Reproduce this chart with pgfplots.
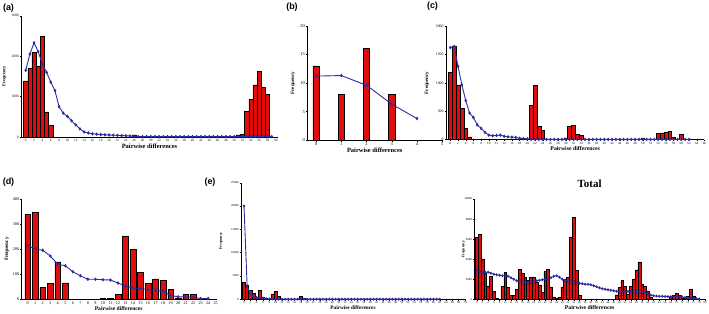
\documentclass[border=0pt]{standalone}
\usepackage{fontspec}
\setmainfont{Liberation Serif}
\setsansfont{Liberation Sans}
\usepackage{pgfplots}
\pgfplotsset{compat=1.18}
\definecolor{barred}{RGB}{225,12,12}
\definecolor{lineblue}{RGB}{45,45,160}
\pgfplotsset{
 pan/.style={
  scale only axis, axis lines=left, axis line style={-, line width=0.5pt},
  tick align=outside, major tick length=1.5pt,
  every tick/.style={black, line width=0.4pt},
  ymin=0, clip=false,
  /pgf/number format/assume math mode=true,
  /pgf/number format/1000 sep={},
  scaled y ticks=false,
  xticklabel style={inner sep=0.8pt},
  yticklabel style={inner sep=0.8pt},
  xlabel style={font=\bfseries, inner sep=1pt},
  ylabel style={font=\bfseries, inner sep=0pt},
  xlabel={Pairwise differences}, ylabel={Frequency},
 },
 yl/.style={every axis y label/.style={at={(axis description cs:-#1,0.5)}, rotate=90, anchor=center}},
 rbars/.style={ybar, bar width=#1, fill=barred, draw=black, line width=0.5pt},
 ln/.style={color=lineblue, line width=0.9pt, mark=diamond*, mark size=1.1pt, mark options={solid, fill=lineblue}},
}
\begin{document}
\begin{tikzpicture}
\path[use as bounding box] (0,0) rectangle (709bp,314bp);
% (a)
\begin{axis}[pan, yl=0.0642, at={(21bp,177bp)}, anchor=south west, width=257bp, height=121.3bp,
 xmin=-1.13, xmax=60.5, ymax=3000, xtick={0,2,...,60}, ytick={0,1000,2000,3000},
 xticklabel style={font=\fontsize{3.3}{4}\selectfont}, yticklabel style={font=\fontsize{3.5}{4}\selectfont},
 xlabel style={font=\fontsize{6.5}{7}\selectfont\bfseries}, ylabel style={font=\fontsize{4.5}{5}\selectfont\bfseries}]
\addplot[rbars=1] coordinates {(0,1390)(1,1700)(2,2100)(3,1760)(4,2500)(5,620)(6,280)(26,50)(51,50)(52,70)(53,640)(54,930)(55,1290)(56,1620)(57,1220)(58,1060)};
\addplot[ln] coordinates {(0,1650)(1,2050)(2,2330)(3,2110)(4,1800)(5,1600)(6,1360)(7,1150)(8,750)(9,590)(10,510)(11,400)(12,300)(13,200)(14,125)(15,100)(16,80)(17,70)(18,60)(19,55)(20,50)(21,45)(22,40)(23,35)(24,30)(25,25)(26,20)(27,10)(28,10)(29,10)(30,10)(31,10)(32,10)(33,10)(34,10)(35,10)(36,10)(37,10)(38,10)(39,10)(40,10)(41,10)(42,10)(43,10)(44,10)(45,10)(46,10)(47,10)(48,10)(49,10)(50,10)(51,10)(52,10)(53,10)(54,10)(55,10)(56,10)(57,10)(58,10)(59,10)};
\end{axis}
% (b)
\begin{axis}[pan, yl=0.106, at={(307.3bp,173.7bp)}, anchor=south west, width=134.9bp, height=114.6bp,
 xmin=-0.35, xmax=5, ymax=20, xtick={0,1,2,3,4,5}, ytick={0,5,10,15,20},
 xticklabel style={font=\fontsize{4.5}{5}\selectfont}, yticklabel style={font=\fontsize{4.5}{5}\selectfont},
 xlabel style={font=\fontsize{6.5}{7}\selectfont\bfseries}, ylabel style={font=\fontsize{5}{6}\selectfont\bfseries}]
\addplot[rbars=0.25] coordinates {(0,13)(1,8)(2,16)(3,8)};
\addplot[ln] coordinates {(0,11.2)(1,11.3)(2,9.6)(3,6.3)(4,3.8)};
\end{axis}
% (c)
\begin{axis}[pan, yl=0.0735, at={(446bp,174.3bp)}, anchor=south west, width=258.4bp, height=113.7bp,
 xmin=-1.12, xmax=66, ymax=2000, xtick={0,2,...,66}, ytick={0,500,1000,1500,2000},
 xticklabel style={font=\fontsize{3.3}{4}\selectfont}, yticklabel style={font=\fontsize{3.8}{4}\selectfont},
 xlabel style={font=\fontsize{5.8}{7}\selectfont\bfseries}, ylabel style={font=\fontsize{5}{6}\selectfont\bfseries}]
\addplot[rbars=1] coordinates {(0,1190)(1,1650)(2,960)(3,550)(4,200)(5,50)(6,10)(20,10)(21,610)(22,950)(23,240)(24,160)(30,30)(31,240)(32,250)(33,90)(34,70)(50,20)(54,110)(55,120)(56,130)(57,150)(58,40)(60,100)};
\addplot[ln] coordinates {(0,1620)(1,1640)(2,1290)(3,965)(4,690)(5,470)(6,390)(7,260)(8,200)(9,130)(10,80)(11,70)(12,75)(13,80)(14,60)(15,50)(16,45)(17,40)(18,25)(19,20)(20,15)(21,5)(22,5)(23,5)(24,5)(25,5)(26,5)(27,5)(28,5)(29,5)(30,5)(31,5)(32,5)(33,5)(34,5)(35,5)(36,5)(37,5)(38,5)(39,5)(40,5)(41,5)(42,5)(43,5)(44,5)(45,5)(46,5)(47,5)(48,5)(49,5)(50,5)(51,5)(52,5)(53,5)(54,5)(55,5)(56,5)(57,5)(58,5)(59,5)(60,5)(61,5)(62,5)};
\end{axis}
% (d)
\begin{axis}[pan, yl=0.0758, at={(21.7bp,15bp)}, anchor=south west, width=194bp, height=100bp,
 xmin=-0.8, xmax=25, ymax=400, xtick={0,1,...,25}, ytick={0,100,200,300,400},
 xticklabel style={font=\fontsize{4.2}{5}\selectfont}, yticklabel style={font=\fontsize{4.2}{5}\selectfont},
 xlabel style={font=\fontsize{5.6}{7}\selectfont\bfseries}, ylabel style={font=\fontsize{5.2}{6}\selectfont\bfseries}]
\addplot[rbars=0.75] coordinates {(0,340)(1,347)(2,47)(3,63)(4,149)(5,65)(6,0)(7,0)(8,0)(9,0)(10,2)(11,2)(12,19)(13,253)(14,199)(15,107)(16,63)(17,81)(18,76)(19,39)(20,5)(21,19)(22,19)(23,0)(24,0)};
\addplot[ln] coordinates {(0,213)(1,200)(2,195)(3,172)(4,139)(5,133)(6,109)(7,93)(8,79)(9,79)(10,77)(11,76)(12,64)(13,52)(14,44)(15,42)(16,37)(17,35)(18,30)(19,14)(20,9)(21,8)(22,7)(23,2)(24,2)};
\end{axis}
% (e)
\begin{axis}[pan, yl=0.0893, at={(241bp,14.7bp)}, anchor=south west, width=224bp, height=116.6bp,
 xmin=-0.95, xmax=70, ymax=25000, xtick={0,2,...,70}, ytick={0,5000,10000,15000,20000,25000},
 xticklabel style={font=\fontsize{3}{4}\selectfont}, yticklabel style={font=\fontsize{3}{4}\selectfont},
 xlabel style={font=\fontsize{5.3}{6}\selectfont\bfseries}, ylabel style={font=\fontsize{3.8}{4}\selectfont\bfseries}]
\addplot[rbars=1] coordinates {(0,3700)(1,3100)(2,1900)(3,1200)(4,500)(5,1900)(6,500)(7,150)(9,1000)(10,1700)(11,700)(12,100)(18,700)(19,250)};
\addplot[ln, mark size=0.9pt] coordinates {(0,20000)(1,2700)(2,1200)(3,600)(4,400)(5,300)(6,200)(7,150)(8,100)(9,80)(10,60)(11,30)(12,30)(13,30)(14,30)(15,30)(16,30)(17,30)(18,30)(19,30)(20,30)(21,30)(22,30)(23,30)(24,30)(25,30)(26,30)(27,30)(28,30)(29,30)(30,30)(31,30)(32,30)(33,30)(34,30)(35,30)(36,30)(37,30)(38,30)(39,30)(40,30)(41,30)(42,30)(43,30)(44,30)(45,30)(46,30)(47,30)(48,30)(49,30)(50,30)(51,30)(52,30)(53,30)(54,30)(55,30)(56,30)(57,30)(58,30)(59,30)(60,30)(61,30)(62,30)};
\end{axis}
% Total
\begin{axis}[pan, yl=0.0468, at={(474.3bp,14.7bp)}, anchor=south west, width=230.7bp, height=100.3bp,
 xmin=-0.84, xmax=80, ymax=10000, xtick={0,2,...,80}, ytick={0,2000,4000,6000,8000,10000},
 title={Total}, title style={font=\fontsize{11}{12}\selectfont\bfseries, yshift=2bp},
 xticklabel style={font=\fontsize{2.8}{3}\selectfont}, yticklabel style={font=\fontsize{3}{4}\selectfont},
 xlabel style={font=\fontsize{5.8}{6}\selectfont\bfseries}, ylabel style={font=\fontsize{3.8}{4}\selectfont\bfseries}]
\addplot[rbars=1] coordinates {(0,6200)(1,6500)(2,3950)(3,2600)(4,1330)(5,2300)(6,800)(7,100)(9,1300)(10,2700)(11,1200)(12,370)(13,370)(14,1000)(15,3000)(16,2600)(17,2200)(18,1900)(19,2200)(20,2200)(21,1700)(22,1450)(23,670)(24,2800)(25,2950)(26,1250)(27,250)(28,150)(29,200)(30,1200)(31,2000)(32,2200)(33,6230)(34,8160)(35,2900)(36,370)(49,430)(50,1170)(51,1870)(52,1300)(53,530)(54,1270)(55,2030)(56,2930)(57,3730)(58,1500)(59,1330)(60,800)(61,250)(68,200)(69,370)(70,600)(71,370)(72,100)(73,100)(74,300)(75,1000)(76,330)(77,50)};
\addplot[ln, mark size=0.9pt] coordinates {(0,2800)(1,2750)(2,2700)(3,2700)(4,2700)(5,2600)(6,2500)(7,2450)(8,2400)(9,2350)(10,2350)(11,2300)(12,2150)(13,2000)(14,1850)(15,1750)(16,1700)(17,1700)(18,1700)(19,1750)(20,1800)(21,1850)(22,1900)(23,1950)(24,2000)(25,2050)(26,2150)(27,2300)(28,2350)(29,2200)(30,2000)(31,1900)(32,1850)(33,1800)(34,1750)(35,1700)(36,1600)(37,1550)(38,1500)(39,1500)(40,1450)(41,1350)(42,1250)(43,1150)(44,1050)(45,1000)(46,950)(47,900)(48,850)(49,800)(50,780)(51,780)(52,780)(53,780)(54,800)(55,800)(56,780)(57,750)(58,700)(59,620)(60,520)(61,420)(62,350)(63,320)(64,300)(65,300)(66,280)(67,270)(68,260)(69,250)(70,240)(71,220)(72,200)(73,180)(74,150)(75,120)(76,100)(77,60)(78,30)};
\end{axis}
\node[font=\fontsize{9}{10}\selectfont\sffamily\bfseries] at (8.5bp,306bp) {(a)};
\node[font=\fontsize{9}{10}\selectfont\sffamily\bfseries] at (292bp,307bp) {(b)};
\node[font=\fontsize{9}{10}\selectfont\sffamily\bfseries] at (432.5bp,308bp) {(c)};
\node[font=\fontsize{9}{10}\selectfont\sffamily\bfseries] at (8.5bp,132bp) {(d)};
\node[font=\fontsize{9}{10}\selectfont\sffamily\bfseries] at (210bp,132bp) {(e)};
\end{tikzpicture}
\end{document}
